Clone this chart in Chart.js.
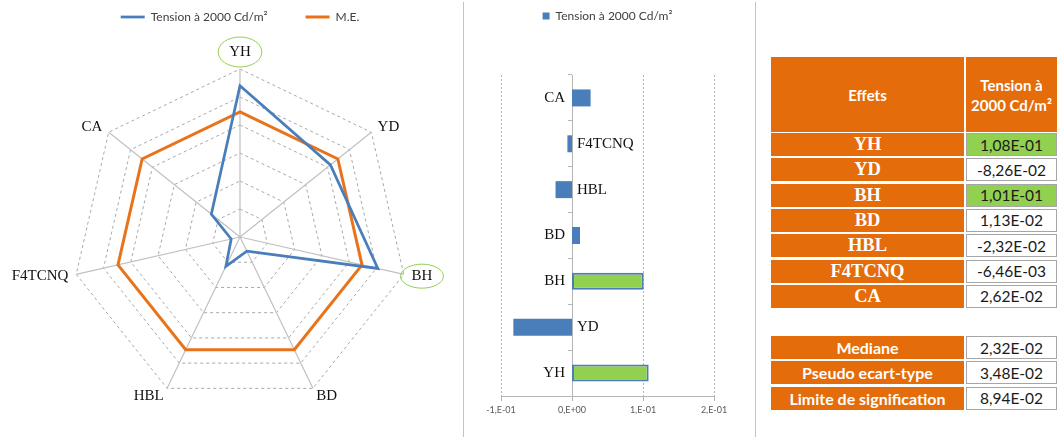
<!DOCTYPE html>
<html lang="fr">
<head>
<meta charset="utf-8">
<title>Effets - Tension à 2000 Cd/m²</title>
<script src="https://cdn.jsdelivr.net/npm/chart.js@4.4.1/dist/chart.umd.min.js"></script>
<style>
  html, body { margin: 0; padding: 0; background: #fff; }
  body { width: 1058px; height: 437px; position: relative; overflow: hidden; font-family: Lato, "Open Sans", sans-serif; }
  #radarBox { position: absolute; left: 0; top: 0; width: 460px; height: 437px; }
  #barBox { position: absolute; left: 465px; top: 0; width: 288px; height: 437px; }
  .sep { position: absolute; top: 2px; width: 1px; height: 435px; background: #c4c4c4; }
  #table { position: absolute; left: 771px; top: 57px; width: 286px; height: 360px; }
  .c { position: absolute; box-sizing: border-box; display: flex; align-items: center; justify-content: center; text-align: center; }
  .org { background: #e46c0a; color: #fff; }
  .hd { font-weight: bold; font-size: 15px; line-height: 20px; }
  .nm { font-family: "Liberation Serif", serif; font-weight: bold; font-size: 18.5px; }
  .st { font-weight: bold; font-size: 16px; }
  .val { background: #fff; border: 1px solid #a6a6a6; color: #1a1a1a; font-size: 15.5px; }
  .val.sig { background: #92d050; }
</style>
</head>
<body>
<div id="radarBox"><canvas id="radarChart"></canvas></div>
<div class="sep" style="left:463px"></div>
<div id="barBox"><canvas id="barChart"></canvas></div>
<div class="sep" style="left:755px"></div>
<div id="table"></div>

<script>
/* ================= DATA ================= */
const effets = ["YH", "YD", "BH", "BD", "HBL", "F4TCNQ", "CA"];
const tension = [0.108, -0.0826, 0.101, 0.0113, -0.0232, -0.00646, 0.0262];
// radar shows the magnitude of each effect
const tensionAbs = [0.108, 0.0826, 0.101, 0.0113, 0.0232, 0.00646, 0.0262];
const meLevel = [0.0894, 0.0894, 0.0894, 0.0894, 0.0894, 0.0894, 0.0894];
const statLabels = ["Mediane", "Pseudo ecart-type", "Limite de signification"];
const statValues = [0.0232, 0.0348, 0.0894];
const xTickLabels = ["-1,E-01", "0,E+00", "1,E-01", "2,E-01"];
const serieName = "Tension à 2000 Cd/m²";

const limite = statValues[2];
const blue = "#4a7ebb";
const orange = "#e8731a";
const green = "#92d050";
const gridGrey = "#b4b4b4";

function isSig(i) {
  return Math.abs(tension[i]) > limite;
}

function fmtSci(v) {
  const parts = v.toExponential(2).split("e");
  const exp = parseInt(parts[1], 10);
  return parts[0].replace(".", ",") + "E" + (exp < 0 ? "-" : "+") + String(Math.abs(exp)).padStart(2, "0");
}

// grow the legend box so the plot starts lower
function legendGap(gap) {
  return {
    id: "legendGap",
    beforeInit(chart) {
      const fit = chart.legend.fit;
      chart.legend.fit = function () {
        fit.bind(chart.legend)();
        this.height += gap;
      };
    }
  };
}

/* ================= RADAR ================= */
const radarLabels = {
  id: "radarLabels",
  afterDraw(chart) {
    const scale = chart.scales.r;
    const ctx = chart.ctx;
    const r = scale.drawingArea;
    ctx.save();
    ctx.font = '15px "Liberation Serif", serif';
    ctx.fillStyle = "#111";
    ctx.strokeStyle = green;
    ctx.lineWidth = 1;
    ctx.textBaseline = "middle";
    effets.forEach((name, i) => {
      let p, align;
      if (i === 0) {
        p = scale.getPointPosition(0, r + 17);
        align = "center";
      } else {
        p = scale.getPointPosition(i, r + 8);
        align = p.x > scale.xCenter ? "left" : "right";
      }
      ctx.textAlign = align;
      ctx.fillText(name, p.x, p.y);
      if (isSig(i)) {
        const w = ctx.measureText(name).width;
        const cx = align === "center" ? p.x : align === "left" ? p.x + w / 2 : p.x - w / 2;
        ctx.beginPath();
        ctx.ellipse(cx, p.y, w / 2 + 11, i === 0 ? 15 : 12, 0, 0, Math.PI * 2);
        ctx.stroke();
      }
    });
    ctx.restore();
  }
};

new Chart(document.getElementById("radarChart"), {
  type: "radar",
  data: {
    labels: effets,
    datasets: [
      { label: serieName, data: tensionAbs, borderColor: blue, backgroundColor: blue, borderWidth: 2.75, pointRadius: 0, fill: false },
      { label: "M.E.", data: meLevel, borderColor: orange, backgroundColor: orange, borderWidth: 3, pointRadius: 0, fill: false }
    ]
  },
  options: {
    responsive: true,
    maintainAspectRatio: false,
    animation: false,
    layout: { padding: { left: 72, right: 52, top: -27, bottom: 32 } },
    elements: { line: { tension: 0, borderJoinStyle: "miter" } },
    plugins: {
      legend: {
        position: "top",
        labels: {
          usePointStyle: true,
          pointStyle: "line",
          pointStyleWidth: 24,
          padding: 38,
          color: "#404040",
          font: { family: "Lato", size: 12 }
        }
      },
      tooltip: { enabled: false }
    },
    scales: {
      r: {
        min: 0,
        max: 0.12,
        ticks: { stepSize: 0.02, display: false },
        grid: { color: "#a8a8a8", lineWidth: 1 },
        border: { dash: [3, 3] },
        angleLines: { color: "#c0c0c0", lineWidth: 1.2 },
        pointLabels: { display: false }
      }
    }
  },
  plugins: [radarLabels, {
    id: "legendHeight",
    beforeInit(chart) {
      const fit = chart.legend.fit;
      chart.legend.fit = function () {
        fit.bind(chart.legend)();
        this.height = 96;
      };
    }
  }]
});

/* ================= BAR ================= */
const barLabels = {
  id: "barLabels",
  afterDatasetsDraw(chart) {
    const { ctx, scales: { x, y } } = chart;
    const x0 = x.getPixelForValue(0);
    ctx.save();
    ctx.font = '15px "Liberation Serif", serif';
    ctx.fillStyle = "#111";
    ctx.textBaseline = "middle";
    effets.forEach((name, i) => {
      const yy = y.getPixelForValue(i);
      if (tension[i] >= 0) {
        ctx.textAlign = "right";
        ctx.fillText(name, x0 - 7, yy);
      } else {
        ctx.textAlign = "left";
        ctx.fillText(name, x0 + 5, yy);
      }
    });
    ctx.restore();
  }
};

new Chart(document.getElementById("barChart"), {
  type: "bar",
  data: {
    labels: effets,
    datasets: [{
      label: serieName,
      data: tension,
      backgroundColor: effets.map((e, i) => (isSig(i) ? green : blue)),
      borderColor: blue,
      borderWidth: effets.map((e, i) => (isSig(i) ? 2 : 0)),
      borderSkipped: false,
      categoryPercentage: 1,
      barPercentage: 0.37
    }]
  },
  options: {
    indexAxis: "y",
    responsive: true,
    maintainAspectRatio: false,
    animation: false,
    layout: { padding: { left: 36, right: 39, top: 0, bottom: 12 } },
    plugins: {
      legend: {
        position: "top",
        labels: {
          boxWidth: 7,
          boxHeight: 7,
          color: "#404040",
          font: { family: "Lato", size: 12 },
          generateLabels: () => [{ text: serieName, fillStyle: blue, strokeStyle: blue, lineWidth: 0, fontColor: "#404040" }]
        }
      },
      tooltip: { enabled: false }
    },
    scales: {
      x: {
        min: -0.1,
        max: 0.2,
        ticks: {
          stepSize: 0.1,
          color: "#595959",
          font: { family: "Lato", size: 9 },
          padding: 4,
          callback: (v, i) => xTickLabels[i]
        },
        grid: {
          color: ctx => (ctx.tick && Math.abs(ctx.tick.value) < 1e-9 ? "rgba(0,0,0,0)" : gridGrey),
          tickColor: gridGrey,
          tickLength: 5
        },
        border: { display: true, color: gridGrey, dash: [2, 2] },
        afterFit: s => { s.height = 29; }
      },
      y: {
        reverse: true,
        position: { x: 0 },
        ticks: { display: false },
        grid: { drawOnChartArea: false, drawTicks: true, tickLength: 4, color: gridGrey, offset: true },
        border: { display: true, color: gridGrey }
      }
    }
  },
  plugins: [barLabels, legendGap(43)]
});

/* ================= TABLE ================= */
const table = document.getElementById("table");

function cell(cls, html, left, top, w, h) {
  const d = document.createElement("div");
  d.className = "c " + cls;
  d.style.left = left + "px";
  d.style.top = top + "px";
  d.style.width = w + "px";
  d.style.height = h + "px";
  d.innerHTML = html;
  table.appendChild(d);
}

const colL = 193, colRx = 195, colRw = 91, rowH = 23, pitch = 25.3;

cell("org hd", "Effets", 0, 0, colL, 75);
cell("org hd", "Tension à<br>2000 Cd/m²", colRx, 0, colRw, 75);

effets.forEach((name, i) => {
  const top = 76 + i * pitch;
  cell("org nm", name, 0, top, colL, rowH);
  cell("val" + (isSig(i) ? " sig" : ""), fmtSci(tension[i]), colRx, top, colRw, rowH);
});

statLabels.forEach((name, j) => {
  const top = 279 + j * pitch;
  cell("org st", name, 0, top, colL, rowH);
  cell("val", fmtSci(statValues[j]), colRx, top, colRw, rowH);
});
</script>
</body>
</html>
